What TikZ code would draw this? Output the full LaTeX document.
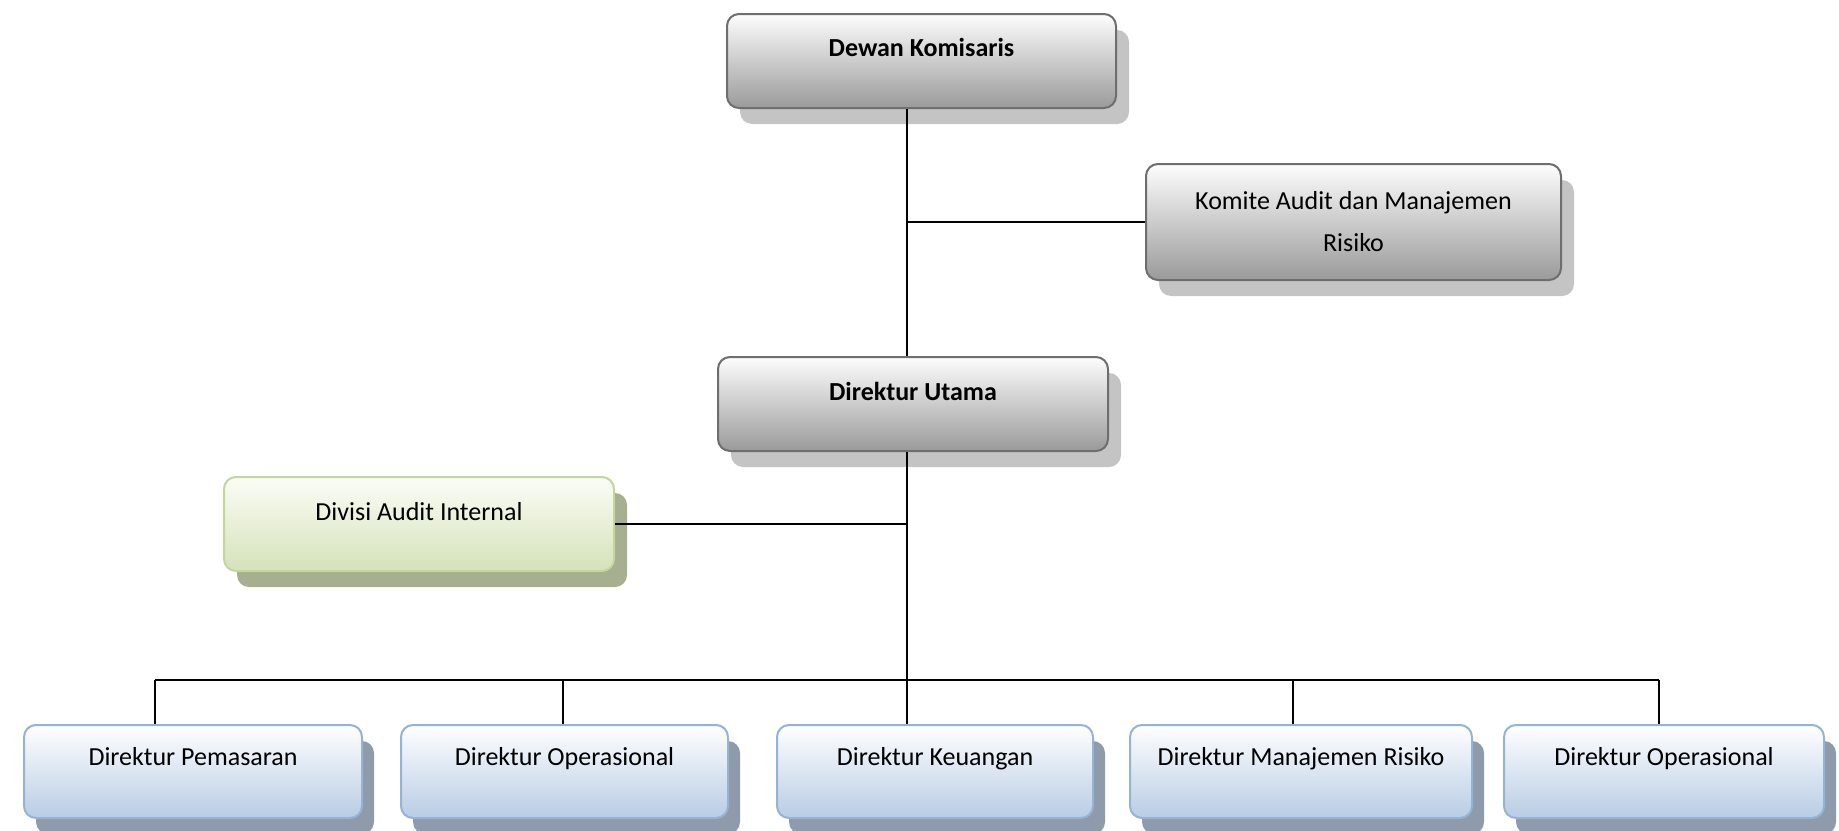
\documentclass[tikz,border=0pt]{standalone}
\usepackage{fontspec}
\setmainfont{Carlito}
\usetikzlibrary{shadows}

\definecolor{grayTop}{HTML}{FDFDFD}
\definecolor{grayBot}{HTML}{9A9A9A}
\definecolor{grayLine}{HTML}{6E6E6E}
\definecolor{grayShadow}{HTML}{C4C4C4}
\definecolor{greenTop}{HTML}{FBFDF6}
\definecolor{greenBot}{HTML}{D5E2BA}
\definecolor{greenLine}{HTML}{C3D69B}
\definecolor{greenShadow}{HTML}{A6AF90}
\definecolor{blueTop}{HTML}{FFFFFF}
\definecolor{blueBot}{HTML}{B8CCE4}
\definecolor{blueLine}{HTML}{95B3D7}
\definecolor{blueShadow}{HTML}{8F9BAA}

\tikzset{
  orgbox/.style={rectangle, rounded corners=12pt, anchor=north west,
    inner xsep=0pt, inner ysep=0pt, line width=2pt, align=center,
    font=\fontsize{26}{34}\selectfont},
  grayunit/.style={orgbox, draw=grayLine, top color=grayTop, bottom color=grayBot,
    drop shadow={shadow xshift=13pt, shadow yshift=-16pt, fill=grayShadow, opacity=1}},
  greenunit/.style={orgbox, draw=greenLine, top color=greenTop, bottom color=greenBot,
    drop shadow={shadow xshift=13pt, shadow yshift=-16pt, fill=greenShadow, opacity=1}},
  blueunit/.style={orgbox, draw=blueLine, top color=blueTop, bottom color=blueBot,
    text height=40pt, text depth=53pt,
    drop shadow={shadow xshift=12pt, shadow yshift=-16pt, fill=blueShadow, opacity=1}},
  boldtext/.style={font=\fontsize{26}{34}\selectfont\bfseries},
  link/.style={draw=black, line width=2pt}
}

\begin{document}
\begin{tikzpicture}[x=1pt, y=-1pt]
  \useasboundingbox (0,0) rectangle (1839,830);

  % board and top management
  \node[grayunit, boldtext, minimum width=389pt, text height=42pt, text depth=52pt]
    (dk) at (726,13) {Dewan Komisaris};
  \node[grayunit, minimum width=415pt, minimum height=116pt, font=\fontsize{26}{42}\selectfont]
    (ka) at (1145,163) {Komite Audit dan Manajemen\\Risiko};
  \node[grayunit, boldtext, minimum width=390pt, text height=43pt, text depth=51pt]
    (du) at (717,356) {Direktur Utama};
  \node[greenunit, minimum width=390pt, text height=43pt, text depth=51pt]
    (dai) at (223,476) {Divisi Audit Internal};

  % directors
  \node[blueunit, minimum width=338pt] (pem) at (23,724)   {Direktur Pemasaran};
  \node[blueunit, minimum width=327pt] (op1) at (400,724)  {Direktur Operasional};
  \node[blueunit, minimum width=316pt] (keu) at (776,724)  {Direktur Keuangan};
  \node[blueunit, minimum width=342pt] (mr)  at (1129,724) {Direktur Manajemen Risiko};
  \node[blueunit, minimum width=320pt] (op2) at (1503,724) {Direktur Operasional};

  % connector routing points
  \coordinate (t)   at (907,0);
  \coordinate (vp)  at (155,680);
  \coordinate (vo1) at (563,680);
  \coordinate (vk)  at (907,680);
  \coordinate (vm)  at (1293,680);
  \coordinate (vo2) at (1659,680);

  % main trunk
  \draw[link] (t |- dk.south) -- (t |- du.north);
  \draw[link] (t |- ka.west) -- (ka.west);
  \draw[link] (t |- du.south) -- (vk);
  \draw[link] (dai.east) -- (t |- dai.east);

  % bus to directors
  \draw[link] (vp) -- (vo2);
  \draw[link] (vp)  -- (vp  |- pem.north);
  \draw[link] (vo1) -- (vo1 |- op1.north);
  \draw[link] (vk)  -- (vk  |- keu.north);
  \draw[link] (vm)  -- (vm  |- mr.north);
  \draw[link] (vo2) -- (vo2 |- op2.north);
\end{tikzpicture}
\end{document}
